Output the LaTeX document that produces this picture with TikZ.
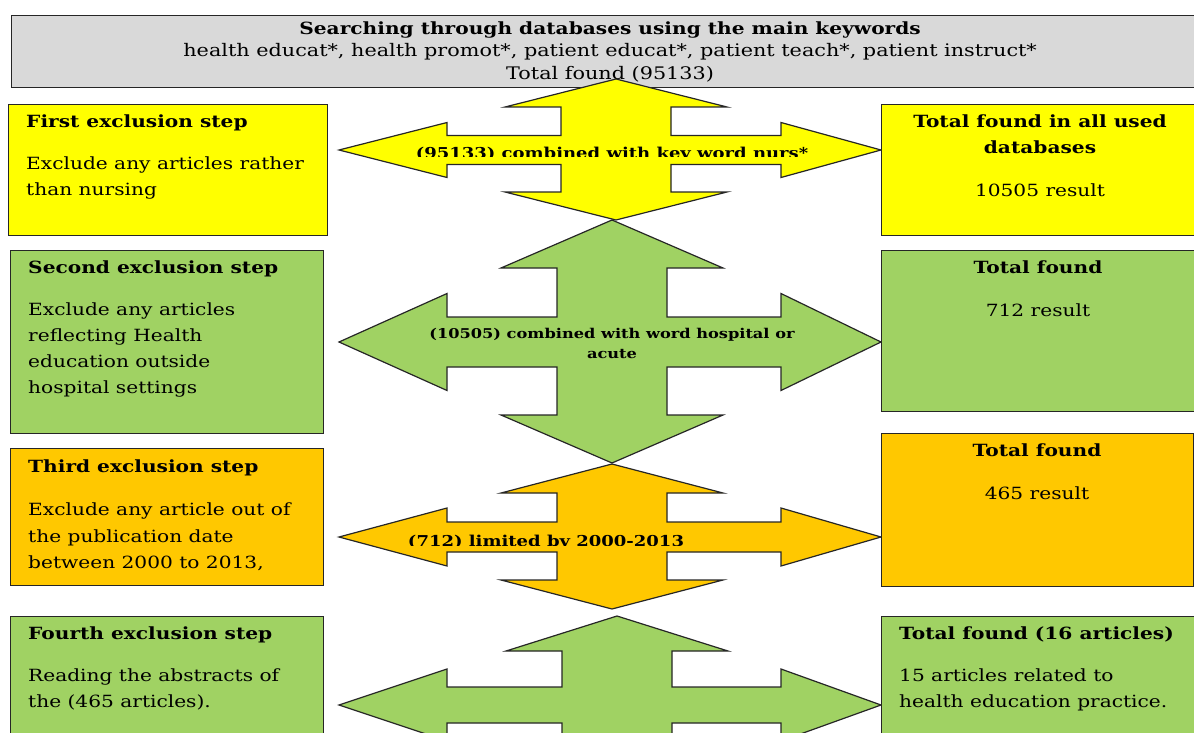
\documentclass[tikz,border=0pt]{standalone}
\usepackage{fontspec}
\setmainfont{DejaVu Serif}[FakeStretch=1.2]
\usetikzlibrary{positioning}

\definecolor{keygray}{HTML}{D9D9D9}
\definecolor{stepyellow}{HTML}{FFFF00}
\definecolor{stepgreen}{HTML}{A0D263}
\definecolor{steporange}{HTML}{FFC800}

% four-headed arrow: colour, centre x, centre y, top y, bottom y,
% head depth, shaft half height, head half height
\newcommand{\quadarrow}[8]{%
  \filldraw[quad, fill=#1] (#2,#4) -- ({#2+111},{#4+#6}) -- ({#2+55},{#4+#6})
    -- ({#2+55},{#3-#7}) -- (781,{#3-#7}) -- (781,{#3-#8}) -- (881,#3)
    -- (781,{#3+#8}) -- (781,{#3+#7}) -- ({#2+55},{#3+#7})
    -- ({#2+55},{#5-#6}) -- ({#2+111},{#5-#6}) -- (#2,#5)
    -- ({#2-111},{#5-#6}) -- ({#2-55},{#5-#6}) -- ({#2-55},{#3+#7})
    -- (447,{#3+#7}) -- (447,{#3+#8}) -- (339,#3) -- (447,{#3-#8})
    -- (447,{#3-#7}) -- ({#2-55},{#3-#7}) -- ({#2-55},{#4+#6})
    -- ({#2-111},{#4+#6}) -- cycle;}

\begin{document}
\begin{tikzpicture}[x=1pt,y=-1pt,
    box/.style={draw=black!85, line width=1.2pt, anchor=north west, inner sep=0pt},
    quad/.style={draw=black!85, line width=1.2pt, line join=miter},
    steptext/.style={anchor=north west, align=left, inner sep=0pt,
        font=\fontsize{16.8}{26}\selectfont},
    totaltext/.style={anchor=north, align=center, inner sep=0pt,
        font=\fontsize{16.8}{25.5}\selectfont},
    arrowtext/.style={align=center, inner sep=0pt,
        font=\bfseries\fontsize{15}{20}\selectfont}]
    \useasboundingbox (0,0) rectangle (1194,733);
    \clip (0,0) rectangle (1194,733);

    % search box
    \node[box, fill=keygray, minimum width=1197, minimum height=72,
        align=center, font=\fontsize{17.3}{22.5}\selectfont] (search) at (11,15)
        {{\fontsize{16.8}{22.5}\selectfont\bfseries Searching through databases using the main keywords}\\
         health educat*, health promot*, patient educat*, patient teach*, patient instruct*\\
         Total found (95133)};

    % arrows
    \quadarrow{stepyellow}{616}{150}{79}{220}{28}{14.5}{27.5}
    \quadarrow{stepgreen}{612}{342}{220}{463}{48}{25}{48.5}
    \quadarrow{steporange}{612}{537}{464}{609}{29}{15}{29}
    \quadarrow{stepgreen}{617}{705}{616}{794}{35}{18}{36}

    \begin{scope}
        \clip (340,120) rectangle (880,157);
        \node[arrowtext, anchor=base] (nurs) at (612,158) {(95133) combined with key word nurs*};
    \end{scope}
    \node[arrowtext, font=\bfseries\fontsize{13.5}{20}\selectfont] (hosp) at (612,343)
        {(10505) combined with word hospital or\\ acute};
    \begin{scope}
        \clip (340,520) rectangle (880,545);
        \node[arrowtext, anchor=base] (years) at (546,546) {(712) limited by 2000-2013};
    \end{scope}

    % exclusion steps
    \node[box, fill=stepyellow, minimum width=319, minimum height=131] (first) at (8,104) {};
    \node[box, fill=stepgreen, minimum width=313, minimum height=183] (second) at (10,250) {};
    \node[box, fill=steporange, minimum width=313, minimum height=137] (third) at (10,448) {};
    \node[box, fill=stepgreen, minimum width=313, minimum height=140] (fourth) at (10,616) {};

    \node[steptext] (firsttxt) at (26,115)
        {\textbf{First exclusion step}\\[15.5pt]
         Exclude any articles rather\\ than nursing};
    \node[steptext] (secondtxt) at (28,261)
        {\textbf{Second exclusion step}\\[15.5pt]
         Exclude any articles\\ reflecting Health\\ education outside\\ hospital settings};
    \node[steptext, font=\fontsize{16.8}{26.5}\selectfont] (thirdtxt) at (28,460)
        {\textbf{Third exclusion step}\\[16.5pt]
         Exclude any article out of\\ the publication date\\ between 2000 to 2013,};
    \node[steptext] (fourthtxt) at (28,627)
        {\textbf{Fourth exclusion step}\\[15.5pt]
         Reading the abstracts of\\ the (465 articles).};

    % totals
    \node[box, fill=stepyellow, minimum width=316, minimum height=131] (total1) at (881,104) {};
    \node[box, fill=stepgreen, minimum width=316, minimum height=161] (total2) at (881,250) {};
    \node[box, fill=steporange, minimum width=312, minimum height=153] (total3) at (881,433) {};
    \node[box, fill=stepgreen, minimum width=316, minimum height=140] (total4) at (881,616) {};

    \node[totaltext] (total1txt) at (1040,115)
        {\textbf{Total found in all used}\\ \textbf{databases}\\[17.5pt] 10505 result};
    \node[totaltext] (total2txt) at (1038,261)
        {\textbf{Total found}\\[17.5pt] 712 result};
    \node[totaltext] (total3txt) at (1037,444)
        {\textbf{Total found}\\[17.5pt] 465 result};
    \node[steptext] (total4txt) at (899,627)
        {\textbf{Total found (16 articles)}\\[15.5pt]
         15 articles related to\\ health education practice.};
\end{tikzpicture}
\end{document}
